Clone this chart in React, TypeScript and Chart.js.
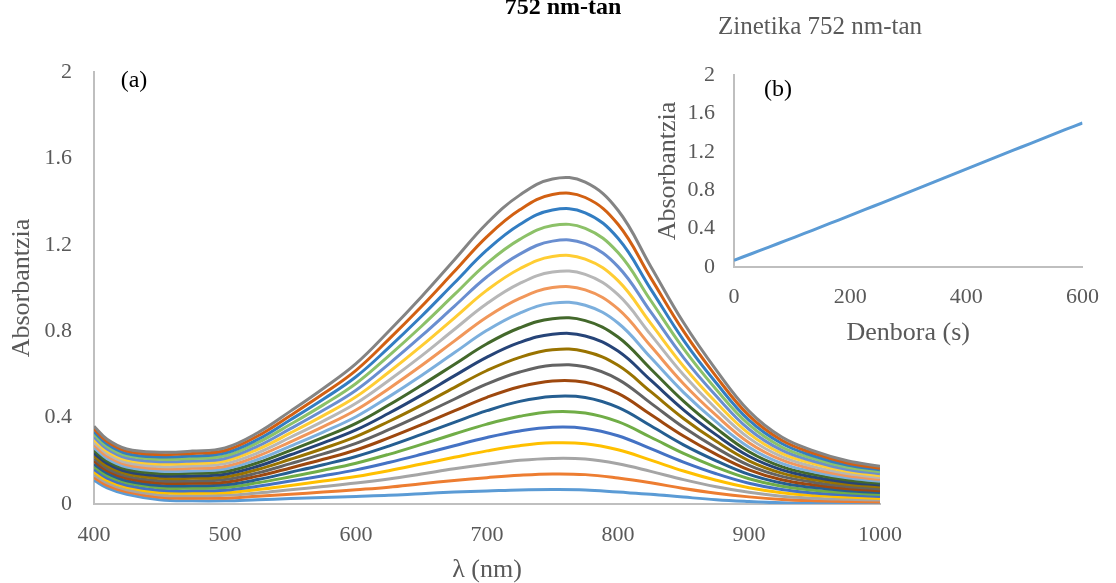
import React, { useEffect, useRef } from "react";
import { Chart, registerables } from "chart.js";

Chart.register(...registerables);

const SERIF = "'Liberation Serif', 'Times New Roman', serif";

// Wavelength samples (nm)
const wavelengths = [400, 410, 425, 450, 475, 500, 525, 550, 575, 600, 625, 650, 675, 700, 725, 750, 775, 800, 825, 850, 875, 900, 925, 950, 975, 1000];

// Spectra, one per 30 s
const s01 = [0.110, 0.075, 0.045, 0.020, 0.015, 0.015, 0.020, 0.025, 0.030, 0.035, 0.040, 0.048, 0.055, 0.060, 0.065, 0.067, 0.065, 0.055, 0.045, 0.032, 0.020, 0.012, 0.006, 0.003, 0.002, 0.000];
const s02 = [0.123, 0.086, 0.056, 0.031, 0.027, 0.027, 0.036, 0.045, 0.055, 0.066, 0.078, 0.094, 0.109, 0.122, 0.133, 0.139, 0.136, 0.120, 0.098, 0.072, 0.050, 0.033, 0.021, 0.015, 0.012, 0.009];
const s03 = [0.135, 0.098, 0.066, 0.042, 0.038, 0.040, 0.051, 0.066, 0.081, 0.097, 0.116, 0.139, 0.163, 0.184, 0.202, 0.211, 0.208, 0.186, 0.151, 0.113, 0.080, 0.054, 0.036, 0.027, 0.022, 0.018];
const s04 = [0.148, 0.109, 0.077, 0.053, 0.050, 0.052, 0.067, 0.086, 0.106, 0.127, 0.154, 0.185, 0.216, 0.246, 0.270, 0.283, 0.279, 0.251, 0.203, 0.153, 0.110, 0.075, 0.052, 0.039, 0.032, 0.026];
const s05 = [0.160, 0.120, 0.087, 0.064, 0.061, 0.064, 0.082, 0.106, 0.131, 0.158, 0.192, 0.230, 0.270, 0.308, 0.338, 0.355, 0.350, 0.316, 0.256, 0.194, 0.140, 0.096, 0.067, 0.051, 0.042, 0.035];
const s06 = [0.173, 0.131, 0.098, 0.075, 0.073, 0.076, 0.098, 0.126, 0.156, 0.189, 0.230, 0.276, 0.324, 0.370, 0.406, 0.427, 0.421, 0.381, 0.309, 0.234, 0.170, 0.117, 0.082, 0.064, 0.052, 0.044];
const s07 = [0.185, 0.143, 0.108, 0.086, 0.084, 0.089, 0.113, 0.147, 0.182, 0.220, 0.268, 0.322, 0.378, 0.432, 0.475, 0.498, 0.493, 0.447, 0.362, 0.274, 0.200, 0.137, 0.097, 0.076, 0.061, 0.053];
const s08 = [0.198, 0.154, 0.119, 0.097, 0.096, 0.101, 0.129, 0.167, 0.207, 0.250, 0.306, 0.367, 0.431, 0.494, 0.543, 0.570, 0.564, 0.512, 0.414, 0.315, 0.230, 0.158, 0.112, 0.088, 0.071, 0.061];
const s09 = [0.210, 0.165, 0.129, 0.108, 0.107, 0.113, 0.144, 0.187, 0.232, 0.281, 0.344, 0.413, 0.485, 0.556, 0.611, 0.642, 0.635, 0.577, 0.467, 0.355, 0.260, 0.179, 0.128, 0.100, 0.081, 0.070];
const s10 = [0.223, 0.176, 0.140, 0.119, 0.119, 0.125, 0.160, 0.207, 0.257, 0.312, 0.382, 0.458, 0.539, 0.618, 0.679, 0.714, 0.706, 0.642, 0.520, 0.396, 0.290, 0.200, 0.143, 0.112, 0.091, 0.079];
const s11 = [0.235, 0.188, 0.150, 0.130, 0.130, 0.138, 0.175, 0.228, 0.283, 0.343, 0.420, 0.504, 0.593, 0.680, 0.748, 0.786, 0.778, 0.708, 0.573, 0.436, 0.320, 0.221, 0.158, 0.124, 0.101, 0.088];
const s12 = [0.248, 0.199, 0.161, 0.141, 0.142, 0.150, 0.191, 0.248, 0.308, 0.373, 0.458, 0.550, 0.646, 0.742, 0.816, 0.858, 0.849, 0.773, 0.625, 0.476, 0.350, 0.242, 0.173, 0.136, 0.111, 0.096];
const s13 = [0.260, 0.210, 0.171, 0.152, 0.153, 0.162, 0.206, 0.268, 0.333, 0.404, 0.496, 0.595, 0.700, 0.804, 0.884, 0.930, 0.920, 0.838, 0.678, 0.517, 0.380, 0.263, 0.188, 0.148, 0.121, 0.105];
const s14 = [0.273, 0.221, 0.182, 0.163, 0.165, 0.174, 0.222, 0.288, 0.358, 0.435, 0.534, 0.641, 0.754, 0.866, 0.952, 1.002, 0.991, 0.903, 0.731, 0.557, 0.410, 0.284, 0.204, 0.160, 0.131, 0.114];
const s15 = [0.285, 0.233, 0.192, 0.174, 0.176, 0.187, 0.237, 0.309, 0.384, 0.466, 0.572, 0.686, 0.808, 0.928, 1.021, 1.074, 1.063, 0.969, 0.784, 0.598, 0.440, 0.305, 0.219, 0.172, 0.141, 0.123];
const s16 = [0.298, 0.244, 0.203, 0.185, 0.188, 0.199, 0.253, 0.329, 0.409, 0.496, 0.610, 0.732, 0.861, 0.990, 1.089, 1.146, 1.134, 1.034, 0.836, 0.638, 0.470, 0.326, 0.234, 0.185, 0.151, 0.131];
const s17 = [0.310, 0.255, 0.213, 0.196, 0.199, 0.211, 0.268, 0.349, 0.434, 0.527, 0.648, 0.778, 0.915, 1.052, 1.157, 1.217, 1.205, 1.099, 0.889, 0.678, 0.500, 0.346, 0.249, 0.197, 0.160, 0.140];
const s18 = [0.323, 0.266, 0.224, 0.207, 0.211, 0.223, 0.284, 0.369, 0.459, 0.558, 0.686, 0.823, 0.969, 1.114, 1.225, 1.289, 1.276, 1.164, 0.942, 0.719, 0.530, 0.367, 0.264, 0.209, 0.170, 0.149];
const s19 = [0.335, 0.278, 0.234, 0.218, 0.222, 0.236, 0.299, 0.390, 0.485, 0.589, 0.724, 0.869, 1.023, 1.176, 1.294, 1.361, 1.348, 1.230, 0.995, 0.759, 0.560, 0.388, 0.280, 0.221, 0.180, 0.158];
const s20 = [0.348, 0.289, 0.245, 0.229, 0.234, 0.248, 0.315, 0.410, 0.510, 0.619, 0.762, 0.914, 1.076, 1.238, 1.362, 1.433, 1.419, 1.295, 1.047, 0.800, 0.590, 0.409, 0.295, 0.233, 0.190, 0.166];
const s21 = [0.360, 0.300, 0.255, 0.240, 0.245, 0.260, 0.330, 0.430, 0.535, 0.650, 0.800, 0.960, 1.130, 1.300, 1.430, 1.505, 1.490, 1.360, 1.100, 0.840, 0.620, 0.430, 0.310, 0.245, 0.200, 0.175];

const spectra = [s01, s02, s03, s04, s05, s06, s07, s08, s09, s10, s11, s12, s13, s14, s15, s16, s17, s18, s19, s20, s21];

const seriesColors = [
  "#5B9BD5", "#ED7D31", "#A5A5A5", "#FFC000", "#4472C4", "#70AD47",
  "#255E91", "#9E480E", "#636363", "#997300", "#264478", "#43682B",
  "#7CAFDD", "#F1975A", "#B7B7B7", "#FFCD33", "#698ED0", "#8CC168",
  "#327DC2", "#D26012", "#848484",
];

// Kinetics at 752 nm
const timeSeconds = [0, 30, 60, 90, 120, 150, 180, 210, 240, 270, 300, 330, 360, 390, 420, 450, 480, 510, 540, 570, 600];
const absorbance752 = [0.07, 0.138, 0.207, 0.277, 0.347, 0.418, 0.489, 0.561, 0.633, 0.705, 0.778, 0.851, 0.924, 0.997, 1.07, 1.142, 1.214, 1.286, 1.358, 1.43, 1.5];

const mainXTicks = [400, 500, 600, 700, 800, 900, 1000];
const mainYTicks = [0, 0.4, 0.8, 1.2, 1.6, 2];
const mainYTickLabels = ["0", "0.4", "0.8", "1.2", "1.6", "2"];
const insetXTicks = [0, 200, 400, 600];
const insetYTicks = [0, 0.4, 0.8, 1.2, 1.6, 2];
const insetYTickLabels = ["0", "0.4", "0.8", "1.2", "1.6", "2"];

const GRAY_TEXT = "#595959";
const AXIS_COLOR = "#BFBFBF";

type TextItem = { text: string; x: number; y: number; font: string; color: string; baseline: CanvasTextBaseline };

function textPlugin(id: string, items: TextItem[]) {
  return {
    id,
    afterDraw(chart: any) {
      const ctx = chart.ctx as CanvasRenderingContext2D;
      ctx.save();
      for (const t of items) {
        ctx.font = t.font;
        ctx.fillStyle = t.color;
        ctx.textAlign = "center";
        ctx.textBaseline = t.baseline;
        ctx.fillText(t.text, t.x, t.y);
      }
      ctx.restore();
    },
  };
}

function axisOpts(opts: {
  min: number; max: number; ticks: number[]; labels?: string[]; size: { w?: number; h?: number };
  tickPad: number; title: string; titlePad: { top: number; bottom: number };
}) {
  return {
    type: "linear" as const,
    min: opts.min,
    max: opts.max,
    afterBuildTicks: (s: any) => {
      s.ticks = opts.ticks.map((v) => ({ value: v }));
    },
    afterFit: (s: any) => {
      if (opts.size.w !== undefined) s.width = opts.size.w;
      if (opts.size.h !== undefined) s.height = opts.size.h;
    },
    grid: { drawOnChartArea: false, drawTicks: false, color: "rgba(0,0,0,0)" },
    border: { display: true, color: AXIS_COLOR, width: 2 },
    ticks: {
      color: GRAY_TEXT,
      font: { family: SERIF, size: 22 },
      padding: opts.tickPad,
      maxRotation: 0,
      autoSkip: false,
      callback: (v: number) => {
        if (opts.labels) {
          const i = opts.ticks.findIndex((t) => Math.abs(t - v) < 1e-9);
          if (i >= 0) return opts.labels[i];
        }
        return String(v);
      },
    },
    title: {
      display: true,
      text: opts.title,
      color: GRAY_TEXT,
      font: { family: SERIF, size: 26, lineHeight: 1 },
      padding: opts.titlePad,
    },
  };
}

export default function App() {
  const mainRef = useRef<HTMLCanvasElement | null>(null);
  const insetRef = useRef<HTMLCanvasElement | null>(null);

  useEffect(() => {
    if (!mainRef.current || !insetRef.current) return;

    const mainChart = new Chart(mainRef.current, {
      type: "line",
      data: {
        datasets: spectra.map((s, k) => ({
          label: `${k * 30} s`,
          data: wavelengths.map((w, j) => ({ x: w, y: s[j] })),
          borderColor: seriesColors[k],
          backgroundColor: seriesColors[k],
          borderWidth: 3,
          pointRadius: 0,
          tension: 0.4,
          order: spectra.length - k,
          fill: false,
        })),
      },
      options: {
        responsive: false,
        animation: false,
        devicePixelRatio: 1,
        layout: { padding: { left: 0, top: 72, right: 236, bottom: 0 } },
        plugins: { legend: { display: false }, tooltip: { enabled: false }, title: { display: false } },
        scales: {
          x: axisOpts({ min: 400, max: 1000, ticks: mainXTicks, size: { h: 79 }, tickPad: 18, title: "λ (nm)", titlePad: { top: 0, bottom: 0 } }),
          y: axisOpts({ min: 0, max: 2, ticks: mainYTicks, labels: mainYTickLabels, size: { w: 94 }, tickPad: 22, title: "Absorbantzia", titlePad: { top: 9, bottom: 0 } }),
        },
      },
      plugins: [
        textPlugin("mainTexts", [
          { text: "752 nm-tan", x: 563, y: 14, font: `bold 24px ${SERIF}`, color: "#000000", baseline: "alphabetic" },
          { text: "(a)", x: 134, y: 81, font: `24px ${SERIF}`, color: "#000000", baseline: "middle" },
        ]),
      ],
    } as any);

    const insetChart = new Chart(insetRef.current, {
      type: "line",
      data: {
        datasets: [
          {
            label: "752 nm",
            data: timeSeconds.map((t, i) => ({ x: t, y: absorbance752[i] })),
            borderColor: "#5B9BD5",
            backgroundColor: "#5B9BD5",
            borderWidth: 3,
            pointRadius: 0,
            tension: 0.4,
            fill: false,
          },
        ],
      },
      options: {
        responsive: false,
        animation: false,
        devicePixelRatio: 1,
        layout: { padding: { left: 0, top: 75, right: 23, bottom: 0 } },
        plugins: { legend: { display: false }, tooltip: { enabled: false }, title: { display: false } },
        scales: {
          x: axisOpts({ min: 0, max: 600, ticks: insetXTicks, size: { h: 83 }, tickPad: 17, title: "Denbora (s)", titlePad: { top: 0, bottom: 4 } }),
          y: axisOpts({ min: 0, max: 2, ticks: insetYTicks, labels: insetYTickLabels, size: { w: 94 }, tickPad: 19, title: "Absorbantzia", titlePad: { top: 15, bottom: 0 } }),
        },
      },
      plugins: [
        textPlugin("insetTexts", [
          { text: "Zinetika 752 nm-tan", x: 180, y: 34, font: `25px ${SERIF}`, color: GRAY_TEXT, baseline: "alphabetic" },
          { text: "(b)", x: 138, y: 90, font: `24px ${SERIF}`, color: "#000000", baseline: "middle" },
        ]),
      ],
    } as any);

    return () => {
      mainChart.destroy();
      insetChart.destroy();
    };
  }, []);

  return (
    <div style={{ position: "absolute", left: 0, top: 0, width: 1116, height: 583, background: "#ffffff", overflow: "hidden" }}>
      <canvas ref={mainRef} width={1116} height={583} style={{ position: "absolute", left: 0, top: 0, width: 1116, height: 583 }} />
      <canvas ref={insetRef} width={476} height={350} style={{ position: "absolute", left: 640, top: 0, width: 476, height: 350 }} />
    </div>
  );
}
